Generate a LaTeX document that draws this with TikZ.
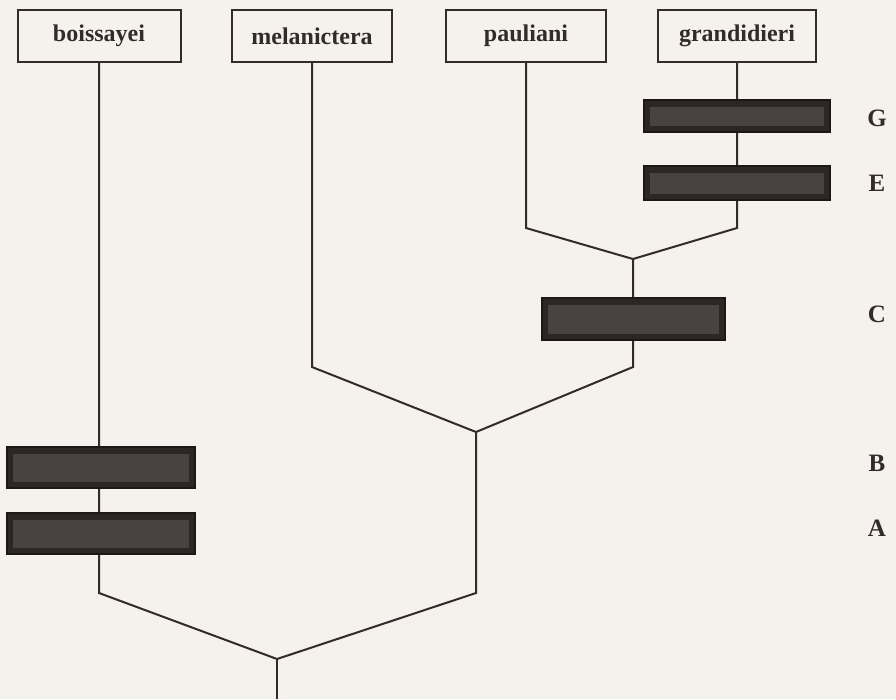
\documentclass[tikz,border=0pt]{standalone}
\usepackage{fontspec}
\setmainfont{Liberation Serif}
\definecolor{bg}{HTML}{F5F2EE}
\definecolor{ink}{HTML}{332A2A}
\definecolor{darkfill}{HTML}{2E2525}
\definecolor{darkinner}{HTML}{4A4242}
\definecolor{darkedge}{HTML}{1E1717}
\begin{document}
\begin{tikzpicture}[x=1pt,y=-1pt,
  taxon/.style={draw=ink, line width=2pt, fill=bg, inner sep=0pt,
     font=\bfseries\fontsize{24}{24}\selectfont, text=ink},
  hidden/.style={draw=darkedge, line width=2pt, fill=darkfill, inner sep=0pt,
     path picture={\fill[darkinner]
       ([shift={(6,7)}]path picture bounding box.north west) rectangle
       ([shift={(-6,-6)}]path picture bounding box.south east);}},
  link/.style={draw=ink, line width=2pt, line join=miter},
  letter/.style={font=\bfseries\fontsize{25}{25}\selectfont, text=ink}]
\fill[bg] (0,0) rectangle (896,699);
\useasboundingbox (0,0) rectangle (896,699);
% taxa
\node[taxon, minimum width=163, minimum height=52] (boi) at (99,36) {boissayei};
\node[taxon, minimum width=160, minimum height=52] (mel) at (312,36) {melanictera};
\node[taxon, minimum width=160, minimum height=52] (pau) at (526,36) {pauliani};
\node[taxon, minimum width=158, minimum height=52] (gra) at (737,36) {grandidieri};
% joints
\coordinate (cBoi) at (99,593);
\coordinate (cJ1) at (476,593);
\coordinate (root) at (277,659);
\coordinate (rootEnd) at (277,699);
\coordinate (J1) at (476,432);
\coordinate (cMel) at (312,367);
\coordinate (cJ2) at (633,367);
\coordinate (J2) at (633,259);
\coordinate (cPau) at (526,228);
\coordinate (cGra) at (737,228);
% connectors (under the dark boxes)
\draw[link] (boi.south) -- (cBoi) -- (root) -- (cJ1) -- (J1);
\draw[link] (root) -- (rootEnd);
\draw[link] (mel.south) -- (cMel) -- (J1) -- (cJ2) -- (J2);
\draw[link] (pau.south) -- (cPau) -- (J2) -- (cGra) -- (gra.south);
% dark boxes
\node[hidden, minimum width=186, minimum height=32] (bG) at (737,116) {};
\node[hidden, minimum width=186, minimum height=34] (bE) at (737,183) {};
\node[hidden, minimum width=183, minimum height=42] (bC) at (633,319) {};
\node[hidden, minimum width=188, minimum height=41] (bB) at (101,467.5) {};
\node[hidden, minimum width=188, minimum height=41] (bA) at (101,533.5) {};
% letters
\node[letter] (lG) at (877,118) {G};
\node[letter] (lE) at (877,183) {E};
\node[letter] (lC) at (877,314) {C};
\node[letter] (lB) at (877,463) {B};
\node[letter] (lA) at (877,528) {A};
\end{tikzpicture}
\end{document}
